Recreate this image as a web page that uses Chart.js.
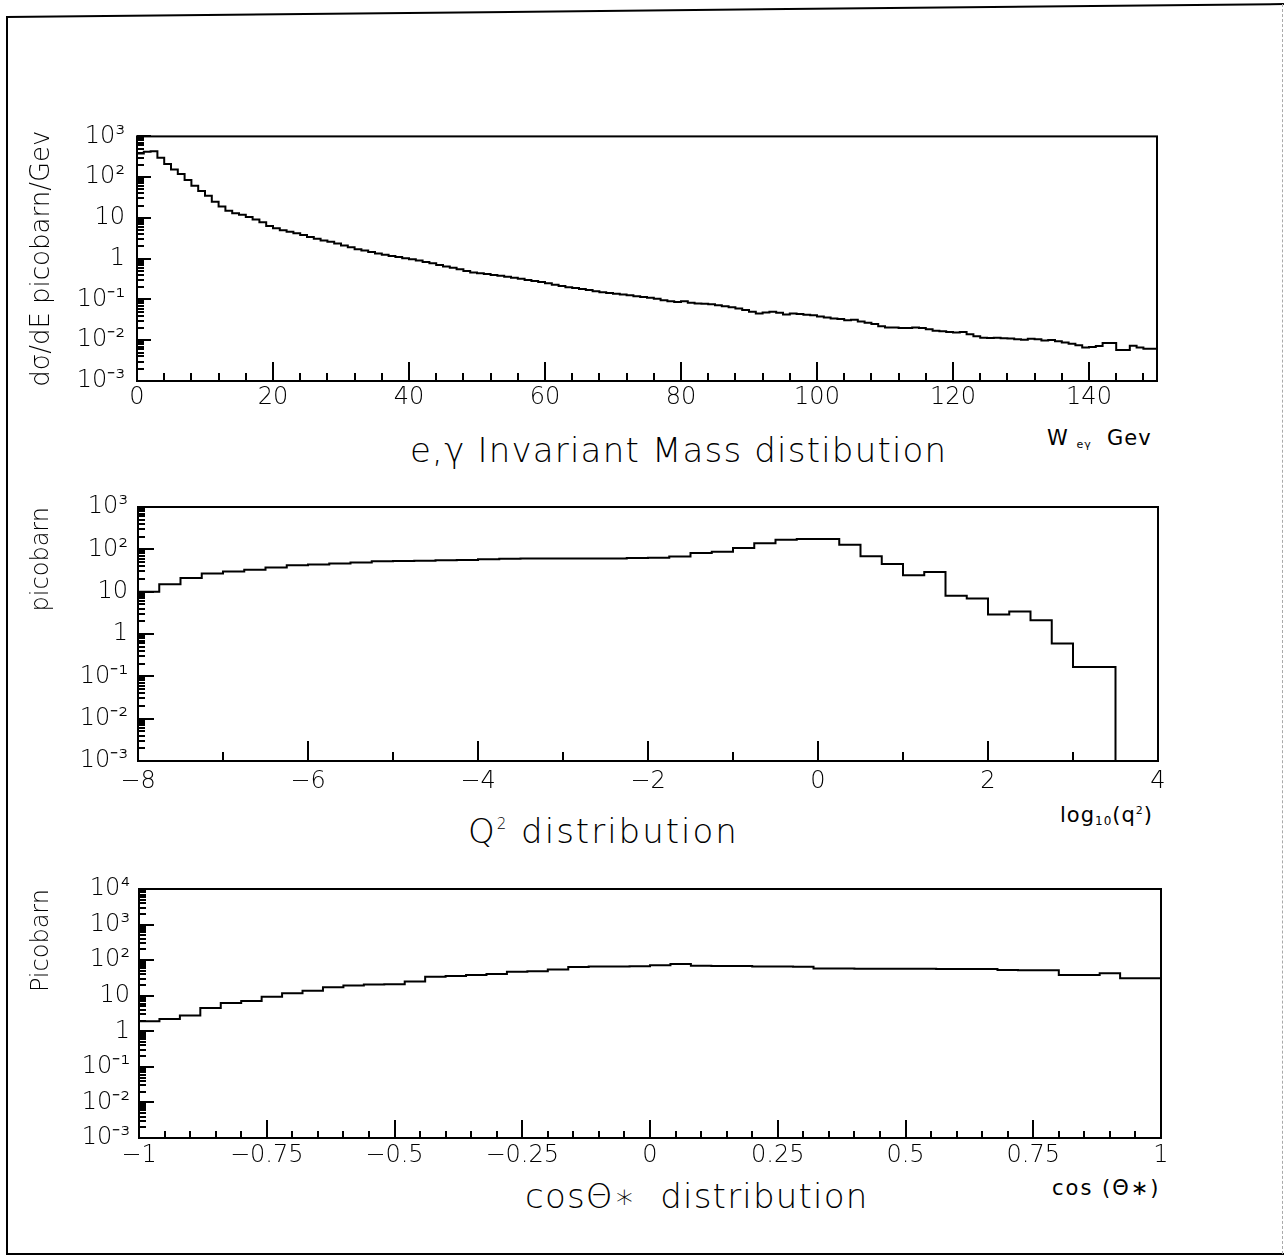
<!DOCTYPE html>
<html>
<head>
<meta charset="utf-8">
<title>distributions</title>
<script src="https://cdn.jsdelivr.net/npm/chart.js@4"></script>
<style>
  body { margin: 0; background: #fff; font-family: "DejaVu Sans", sans-serif; }
  #page { position: relative; width: 1288px; height: 1257px; overflow: hidden; }
  .edge { position: absolute; background: #000; }
  canvas { position: absolute; left: 0; }
  .lbl { position: absolute; white-space: nowrap; color: #000; }
  .big { font-size: 34px; line-height: 34px; letter-spacing: 1.2px; font-weight: 200; }
  .unit { font-size: 21px; line-height: 21px; letter-spacing: 1px; font-weight: 400; }
</style>
</head>
<body>
<div id="page">
  <!-- scanned page frame, slightly skewed at the top -->
  <div class="edge" style="left:6px; top:17px; width:2px; height:1238px"></div>
  <div class="edge" style="left:6px; top:16px; width:1278px; height:2px; transform-origin:0 0; transform:rotate(-0.58deg)"></div>
  <div class="edge" style="left:6px; top:1253px; width:1278px; height:2px"></div>
  <div style="position:absolute; left:1282px; top:4px; height:1250px; border-left:1px dashed #aaa"></div>

  <canvas id="c1" width="1288" height="310" style="top:110px"></canvas>
  <canvas id="c2" width="1288" height="310" style="top:480px"></canvas>
  <canvas id="c3" width="1288" height="310" style="top:860px"></canvas>

  <div class="lbl big" style="left:410px; top:433px">e,γ Invariant Mass distibution</div>
  <div class="lbl unit" style="left:1047px; top:428px">W <span style="font-size:11px; position:relative; top:3px">eγ</span>&nbsp;&nbsp;Gev</div>

  <div class="lbl big" style="left:468px; top:814px; letter-spacing:2px">Q<span style="font-size:15px; position:relative; top:-14px">2</span> distribution</div>
  <div class="lbl unit" style="left:1060px; top:805px">log<span style="font-size:12px; position:relative; top:3px">10</span>(q<span style="font-size:11px; position:relative; top:-8px">2</span>)</div>

  <div class="lbl big" style="left:525px; top:1179px">cosΘ∗&nbsp; distribution</div>
  <div class="lbl unit" style="left:1052px; top:1178px; letter-spacing:2px">cos (Θ∗)</div>
</div>

<script>
// ---- e,gamma invariant mass, 1 GeV bins from 0 to 150 (pb/GeV)
var massBinStart = 0;
var massBinWidth = 1;
var massValues = [
  35, 380, 420, 435, 300, 210, 155, 120, 85, 62,
  46, 35, 25, 19, 15, 13, 12, 10.5, 9.2, 7.8,
  6.3, 5.6, 5.0, 4.6, 4.2, 3.8, 3.4, 3.1, 2.8, 2.6,
  2.35, 2.1, 1.9, 1.7, 1.6, 1.45, 1.35, 1.25, 1.17, 1.1,
  1.03, 0.97, 0.9, 0.83, 0.77, 0.7, 0.64, 0.6, 0.55, 0.5,
  0.46, 0.44, 0.42, 0.4, 0.38, 0.36, 0.34, 0.32, 0.3, 0.285,
  0.27, 0.25, 0.23, 0.215, 0.2, 0.19, 0.18, 0.17, 0.16, 0.15,
  0.144, 0.138, 0.132, 0.126, 0.12, 0.115, 0.11, 0.104, 0.096, 0.09,
  0.087, 0.09, 0.083, 0.08, 0.078, 0.076, 0.072, 0.068, 0.064, 0.06,
  0.055, 0.05, 0.045, 0.048, 0.05, 0.047, 0.043, 0.045, 0.044, 0.042,
  0.041, 0.038, 0.036, 0.034, 0.033, 0.031, 0.032, 0.029, 0.027, 0.025,
  0.022, 0.0205, 0.0205, 0.02, 0.02, 0.0205, 0.02, 0.0185, 0.017, 0.0165,
  0.016, 0.0155, 0.016, 0.014, 0.0125, 0.0115, 0.0113, 0.0115, 0.0112, 0.011,
  0.0105, 0.0103, 0.0108, 0.0105, 0.0098, 0.0102, 0.0095, 0.0088, 0.0082, 0.0075,
  0.0066, 0.0068, 0.0072, 0.0085, 0.0085, 0.0058, 0.0058, 0.0073, 0.0066, 0.0062
];
var massXTicks = [0, 20, 40, 60, 80, 100, 120, 140, 150];
var massXLabels = ['0', '20', '40', '60', '80', '100', '120', '140', ''];
var massYTicks = [1e-3, 1e-2, 1e-1, 1, 10, 100, 1000];
var massYLabels = ['10⁻³', '10⁻²', '10⁻¹', '1', '10', '10²', '10³'];

// ---- Q^2 distribution, 0.25 bins in log10(q^2) from -8 to 3.5 (pb)
var q2BinStart = -8;
var q2BinWidth = 0.25;
var q2Values = [
  6.5, 10, 15, 21, 27, 30, 33, 37, 42, 44,
  46, 49, 52, 53, 54, 55, 56, 58, 60, 61,
  61, 61, 61, 61, 62, 63, 68, 82, 88, 108,
  140, 168, 176, 175, 128, 69, 45, 24.5, 29, 8,
  6.9, 2.9, 3.4, 2.1, 0.6, 0.166
];
var q2XTicks = [-8, -6, -4, -2, 0, 2, 4];
var q2XLabels = ['−8', '−6', '−4', '−2', '0', '2', '4'];
var q2YTicks = [1e-3, 1e-2, 1e-1, 1, 10, 100, 1000];
var q2YLabels = ['10⁻³', '10⁻²', '10⁻¹', '1', '10', '10²', '10³'];

// ---- cos theta* distribution, 0.04 bins from -1 to 1 (pb)
var cosBinStart = -1;
var cosBinWidth = 0.04;
var cosValues = [
  0.37, 1.9, 2.2, 2.8, 4.5, 6.2, 7.1, 9.4, 11.7, 13.9,
  17.2, 19.5, 20.5, 21, 25, 34, 36, 38, 41, 47,
  49, 55, 64, 66, 66, 67, 72, 78, 70, 69,
  68, 66, 66, 65, 58, 58, 57, 57, 57, 57,
  56, 56, 56, 53, 52, 52, 38, 38, 43, 31
];
var cosXTicks = [-1, -0.75, -0.5, -0.25, 0, 0.25, 0.5, 0.75, 1];
var cosXLabels = ['−1', '−0.75', '−0.5', '−0.25', '0', '0.25', '0.5', '0.75', '1'];
var cosYTicks = [1e-3, 1e-2, 1e-1, 1, 10, 100, 1000, 10000];
var cosYLabels = ['10⁻³', '10⁻²', '10⁻¹', '1', '10', '10²', '10³', '10⁴'];

function range(a, b, step) {
  var out = [];
  for (var i = 0; a + i * step <= b + 1e-9; i++) out.push(+(a + i * step).toFixed(6));
  return out;
}

function logMinor(lo, hi) {
  var out = [];
  for (var d = lo; d < hi * 0.99; d *= 10) {
    for (var m = 2; m <= 9; m++) out.push(d * m);
  }
  return out;
}

// histogram outline as a stepped line, closed down to the axis floor at both ends
function histPoints(start, width, values, floor) {
  var pts = [{x: start, y: floor}];
  values.forEach(function (v, i) { pts.push({x: start + i * width, y: v}); });
  var end = start + values.length * width;
  pts.push({x: end, y: values[values.length - 1]});
  pts.push({x: end, y: floor});
  return pts;
}

// box round the plot and inward tick marks like the original
function frameTicks(m) {
  return {
    id: 'frameTicks',
    afterDraw: function (chart) {
      var ctx = chart.ctx, a = chart.chartArea, x = chart.scales.x, y = chart.scales.y;
      ctx.save();
      ctx.strokeStyle = '#000';
      ctx.lineWidth = 2;
      ctx.strokeRect(a.left, a.top, a.right - a.left, a.bottom - a.top);
      ctx.beginPath();
      m.xMajor.forEach(function (v) { var p = Math.round(x.getPixelForValue(v)); ctx.moveTo(p, a.bottom); ctx.lineTo(p, a.bottom - m.xMajorLen); });
      m.xMinor.forEach(function (v) { var p = Math.round(x.getPixelForValue(v)); ctx.moveTo(p, a.bottom); ctx.lineTo(p, a.bottom - m.xMinorLen); });
      m.yMajor.forEach(function (v) { var p = Math.round(y.getPixelForValue(v)); ctx.moveTo(a.left, p); ctx.lineTo(a.left + m.yMajorLen, p); });
      m.yMinor.forEach(function (v) { var p = Math.round(y.getPixelForValue(v)); ctx.moveTo(a.left, p); ctx.lineTo(a.left + 7, p); });
      ctx.stroke();
      ctx.restore();
    }
  };
}

var tickFont = {family: 'DejaVu Sans', size: 24, weight: 300};

function makeChart(id, p) {
  var ctx = document.getElementById(id);
  return new Chart(ctx, {
    type: 'line',
    data: {
      datasets: [{
        data: histPoints(p.start, p.width, p.values, p.yTicks[0]),
        stepped: 'after',
        borderColor: '#000',
        borderWidth: 2,
        pointRadius: 0,
        fill: false,
        tension: 0
      }]
    },
    options: {
      responsive: false,
      animation: false,
      devicePixelRatio: 1,
      layout: {padding: {top: p.padTop, right: p.padRight, left: 0, bottom: 0}},
      plugins: {
        legend: {display: false},
        tooltip: {enabled: false}
      },
      scales: {
        x: {
          type: 'linear',
          min: p.xTicks[0],
          max: p.xTicks[p.xTicks.length - 1],
          afterBuildTicks: function (s) { s.ticks = p.xTicks.map(function (v) { return {value: v}; }); },
          afterFit: function (s) { s.height = p.xHeight; },
          grid: {display: false, drawTicks: false},
          border: {display: false},
          ticks: {
            autoSkip: false, maxRotation: 0, padding: p.xPad, color: '#000', font: tickFont,
            callback: function (v, i) { return p.xLabels[i]; }
          }
        },
        y: {
          type: 'logarithmic',
          min: p.yTicks[0],
          max: p.yTicks[p.yTicks.length - 1],
          afterBuildTicks: function (s) { s.ticks = p.yTicks.map(function (v) { return {value: v}; }); },
          afterFit: function (s) { s.width = p.yWidth; },
          grid: {display: false, drawTicks: false},
          border: {display: false},
          ticks: {
            autoSkip: false, padding: p.yPad, color: '#000', font: tickFont,
            callback: function (v, i) { return p.yLabels[i]; }
          },
          title: {
            display: true, text: p.yTitle, color: '#000', align: p.yTitleAlign,
            font: {family: 'DejaVu Sans', size: p.yTitleSize, weight: 300},
            padding: {top: 27, bottom: 0}
          }
        }
      }
    },
    plugins: [frameTicks(p.marks)]
  });
}

makeChart('c1', {
  start: massBinStart, width: massBinWidth, values: massValues,
  xTicks: massXTicks, xLabels: massXLabels,
  yTicks: massYTicks, yLabels: massYLabels,
  yTitle: 'dσ/dE picobarn/Gev', yTitleAlign: 'center', yTitleSize: 26,
  padTop: 26, padRight: 131, yWidth: 137, xHeight: 39, xPad: 2, yPad: 12,
  marks: {xMajor: massXTicks, xMinor: range(0, 150, 4), xMajorLen: 19, xMinorLen: 8,
          yMajor: massYTicks, yMinor: logMinor(1e-3, 1000), yMajorLen: 14}
});

makeChart('c2', {
  start: q2BinStart, width: q2BinWidth, values: q2Values,
  xTicks: q2XTicks, xLabels: q2XLabels,
  yTicks: q2YTicks, yLabels: q2YLabels,
  yTitle: 'picobarn', yTitleAlign: 'end', yTitleSize: 24,
  padTop: 27, padRight: 130, yWidth: 138, xHeight: 29, xPad: 6, yPad: 10,
  marks: {xMajor: q2XTicks, xMinor: range(-7, 3, 2), xMajorLen: 20, xMinorLen: 9,
          yMajor: q2YTicks, yMinor: logMinor(1e-3, 1000), yMajorLen: 16}
});

makeChart('c3', {
  start: cosBinStart, width: cosBinWidth, values: cosValues,
  xTicks: cosXTicks, xLabels: cosXLabels,
  yTicks: cosYTicks, yLabels: cosYLabels,
  yTitle: 'Picobarn', yTitleAlign: 'end', yTitleSize: 24,
  padTop: 29, padRight: 127, yWidth: 139, xHeight: 32, xPad: 3, yPad: 9,
  marks: {xMajor: cosXTicks, xMinor: range(-1, 1, 0.05), xMajorLen: 18, xMinorLen: 7,
          yMajor: cosYTicks, yMinor: logMinor(1e-3, 10000), yMajorLen: 15}
});
</script>
</body>
</html>
